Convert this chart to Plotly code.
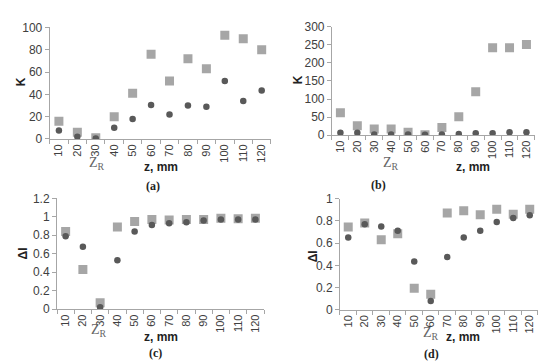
import plotly.graph_objects as go

z = ["10", "20", "30", "40", "50", "60", "70", "80", "90", "100", "110", "120"]

a_sq = [16, 6, 1, 20, 41, 76, 52, 72, 63, 93, 90, 80]
a_ci = [7.5, 2, 0.5, 10, 18, 30.5, 22, 30, 29, 52, 34, 43.5]

b_sq = [62, 26, 17, 17, 8, 1, 21, 51, 120, 242, 242, 251]
b_ci = [7, 7, 2, 2, 2, 1, 2, 3, 5, 5, 8, 8]

c_sq = [0.84, 0.43, 0.07, 0.89, 0.95, 0.97, 0.965, 0.97, 0.97, 0.985, 0.98, 0.985]
c_ci = [0.79, 0.675, 0.02, 0.53, 0.84, 0.91, 0.93, 0.94, 0.96, 0.97, 0.97, 0.97]

d_sq = [0.745, 0.78, 0.63, 0.685, 0.195, 0.14, 0.87, 0.89, 0.855, 0.905, 0.86, 0.905]
d_ci = [0.65, 0.77, 0.75, 0.71, 0.435, 0.08, 0.475, 0.65, 0.71, 0.79, 0.825, 0.85]

zr = {"a": "30", "b": "60", "c": "30", "d": "60"}

SQ = "#a6a6a6"
CI = "#595959"
AX = "#a6a6a6"
TXT = "#404040"

fig = go.Figure()

panels = [
    ("a", "x", "y", a_sq, a_ci, [0.0758, 0.478], [0.6427, 0.964], [0, 100], 20, "K"),
    ("b", "x2", "y2", b_sq, b_ci, [0.589, 0.958], [0.6537, 0.966], [0, 300], 50, "K"),
    ("c", "x3", "y3", c_sq, c_ci, [0.0891, 0.4655], [0.1524, 0.4717], [0, 1.2], 0.2, "ΔI"),
    ("d", "x4", "y4", d_sq, d_ci, [0.6036, 0.9636], [0.1504, 0.4709], [0, 1], 0.2, "ΔI"),
]

layout = {}
for i, (name, xa, ya, sq, ci, xd, yd, yr, dt, ytitle) in enumerate(panels):
    sfx = "" if i == 0 else str(i + 1)
    fig.add_trace(go.Scatter(x=z, y=sq, mode="markers", xaxis=xa, yaxis=ya,
                             marker=dict(symbol="square", size=9, color=SQ),
                             showlegend=False))
    fig.add_trace(go.Scatter(x=z, y=ci, mode="markers", xaxis=xa, yaxis=ya,
                             marker=dict(symbol="circle", size=6.5, color=CI),
                             showlegend=False))
    layout["xaxis" + sfx] = dict(
        domain=xd, anchor=ya, type="category", categoryorder="array",
        categoryarray=z, range=[-0.5, 11.5], tickson="boundaries",
        ticks="outside", ticklen=4, tickcolor=AX, showline=True, linecolor=AX,
        linewidth=1, showgrid=False, zeroline=False, tickangle=-90,
        tickfont=dict(family="Liberation Sans, Arial", size=11, color=TXT))
    layout["yaxis" + sfx] = dict(
        domain=yd, anchor=xa, range=yr, dtick=dt, ticks="outside", ticklen=4,
        tickcolor=AX, showline=True, linecolor=AX, linewidth=1, showgrid=False,
        zeroline=False,
        tickfont=dict(family="Liberation Sans, Arial", size=12, color=TXT))

fig.update_layout(**layout)

fig.update_layout(
    width=550, height=361, margin=dict(l=0, r=0, t=0, b=0),
    paper_bgcolor="white", plot_bgcolor="white",
)

C = dict(xanchor="center", yanchor="middle", xref="paper", yref="paper", showarrow=False)
ann = []
# y titles
for (x, y, t) in [(13, 70, "K"), (290, 68, "K"), (15, 248, "ΔI"), (305, 251, "ΔI")]:
    ann.append(dict(x=x / 550, y=1 - y / 361, text="<b>" + t + "</b>", textangle=-90,
                    font=dict(family="Liberation Sans, Arial", size=12, color="#222"), **C))
# x titles
for (x, y) in [(153, 158), (465, 158), (153, 335), (455, 335)]:
    ann.append(dict(x=x / 550, y=1 - y / 361, text="<b>z, mm</b>",
                    font=dict(family="Liberation Sans, Arial", size=12, color="#222"), **C))
# Z_R labels
for (x, y) in [(89, 155), (383, 155), (91, 328), (423, 331)]:
    ann.append(dict(x=x / 550, y=1 - y / 361, text="Z<sub>R</sub>",
                    font=dict(family="Liberation Serif, Times New Roman", size=14, color="#666"), **C))
# panel labels
for (x, y, t) in [(145, 178, "(a)"), (370, 177, "(b)"), (147, 352, "(c)"), (423, 353, "(d)")]:
    ann.append(dict(x=x / 550, y=1 - y / 361, text="<b>" + t + "</b>",
                    font=dict(family="Liberation Serif, Times New Roman", size=12, color="#222"), **C))
fig.update_layout(annotations=ann)

# Z_R marker lines
shapes = []
for (xa, name, y0, y1) in [("x", "a", 121, 135), ("x2", "b", 119, 130), ("x3", "c", 295, 312), ("x4", "d", 295, 312)]:
    shapes.append(dict(type="line", xref=xa, yref="paper", x0=zr[name], x1=zr[name],
                       y0=1 - y0 / 361, y1=1 - y1 / 361, line=dict(color="black", width=2)))
fig.update_layout(shapes=shapes)

fig.write_html("out.html")
